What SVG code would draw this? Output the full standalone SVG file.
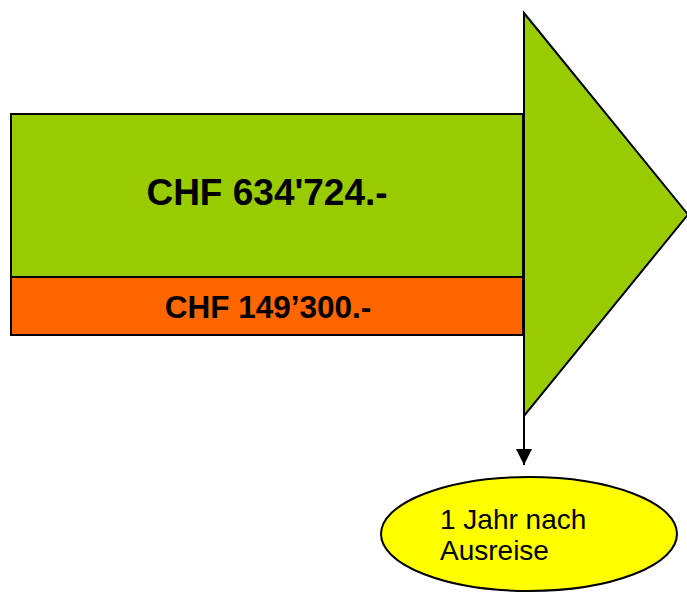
<svg xmlns="http://www.w3.org/2000/svg" width="687" height="592" viewBox="0 0 687 592">
<defs>
<style>
.shape{stroke:#000;stroke-width:2}
.bold{font-family:"Liberation Sans",Arial,sans-serif;font-weight:bold;fill:#000}
.reg{font-family:"Liberation Sans",Arial,sans-serif;fill:#000}
</style>
<marker id="arrow" viewBox="0 0 10 10" refX="10" refY="5" markerWidth="16" markerHeight="16" markerUnits="userSpaceOnUse" orient="auto">
<path d="M0,0 L10,5 L0,10 z" fill="#000"/>
</marker>
</defs>
<rect width="687" height="592" fill="#fff"/>
<g id="triangle">
<polygon class="shape" points="524,13 688,214.5 524,416" fill="#99CC00"/>
</g>
<g id="green-bar">
<rect class="shape" x="11" y="114" width="512" height="163" fill="#99CC00"/>
<text class="bold" x="267" y="205" font-size="37" text-anchor="middle">CHF 634'724.-</text>
</g>
<g id="orange-bar">
<rect class="shape" x="11" y="277" width="512" height="58" fill="#FF6600"/>
<text class="bold" x="268" y="318" font-size="31.5" text-anchor="middle">CHF 149’300.-</text>
</g>
<g id="connectors">
<line x1="524" y1="416" x2="524" y2="465" stroke="#000" stroke-width="2" marker-end="url(#arrow)"/>
</g>
<g id="ellipse">
<ellipse class="shape" cx="529" cy="534" rx="148" ry="57" fill="#FFFF00"/>
<text class="reg" x="440" y="529" font-size="28">1 Jahr nach</text>
<text class="reg" x="440" y="560" font-size="28">Ausreise</text>
</g>
</svg>
